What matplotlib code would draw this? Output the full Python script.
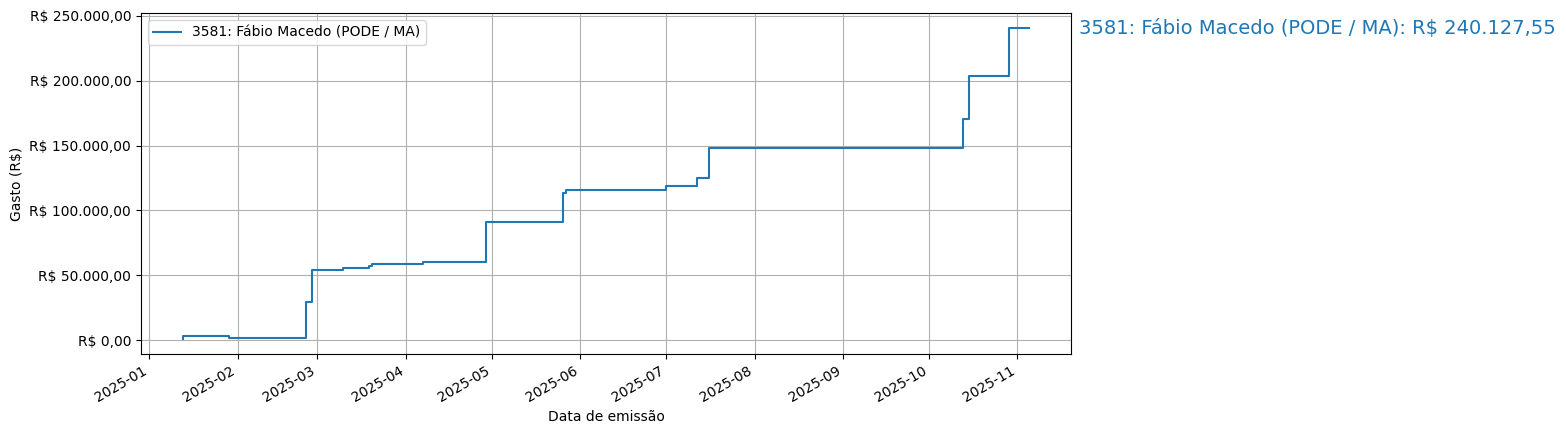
import matplotlib
matplotlib.use("Agg")
import matplotlib.pyplot as plt
import matplotlib.dates as mdates
from matplotlib.ticker import FuncFormatter
import numpy as np

# Gasto acumulado por data de emissão
datas = ['2025-01-13', '2025-01-13', '2025-01-29', '2025-02-25', '2025-02-27',
         '2025-03-10', '2025-03-19', '2025-03-20', '2025-04-07', '2025-04-29',
         '2025-05-26', '2025-05-27', '2025-07-01', '2025-07-12', '2025-07-16',
         '2025-10-13', '2025-10-15', '2025-10-29', '2025-11-05']
acumulado = [1300, 3300, 1600, 29500, 54000,
             55800, 57100, 58900, 60200, 91000,
             113700, 115700, 119100, 125200, 148400,
             170800, 203900, 240127.55, 240127.55]

rotulo = "3581: Fábio Macedo (PODE / MA)"
total = acumulado[-1]


def reais(v, pos=None):
    s = f"{v:,.2f}".replace(",", "X").replace(".", ",").replace("X", ".")
    return f"R$ {s}"


x = np.array(datas, dtype='datetime64[D]')

fig = plt.figure(figsize=(15.66, 4.33), dpi=100)
ax = fig.add_axes([0.090, 0.182, 0.594, 0.788])
ax.step(x, acumulado, where='post', label=rotulo, color='tab:blue')

ax.yaxis.set_major_formatter(FuncFormatter(reais))
ax.xaxis.set_major_locator(mdates.MonthLocator())
ax.xaxis.set_major_formatter(mdates.DateFormatter('%Y-%m'))
for lbl in ax.get_xticklabels():
    lbl.set_rotation(30)
    lbl.set_horizontalalignment('right')

ax.set_xlabel("Data de emissão")
ax.set_ylabel("Gasto (R$)")
ax.grid(True)
ax.legend(loc='upper left')

ax.text(1.008, 0.956, f"{rotulo}: {reais(total)}", transform=ax.transAxes,
        fontsize=14, color='tab:blue', va='center', ha='left')

fig.savefig("out.png", dpi=100)
